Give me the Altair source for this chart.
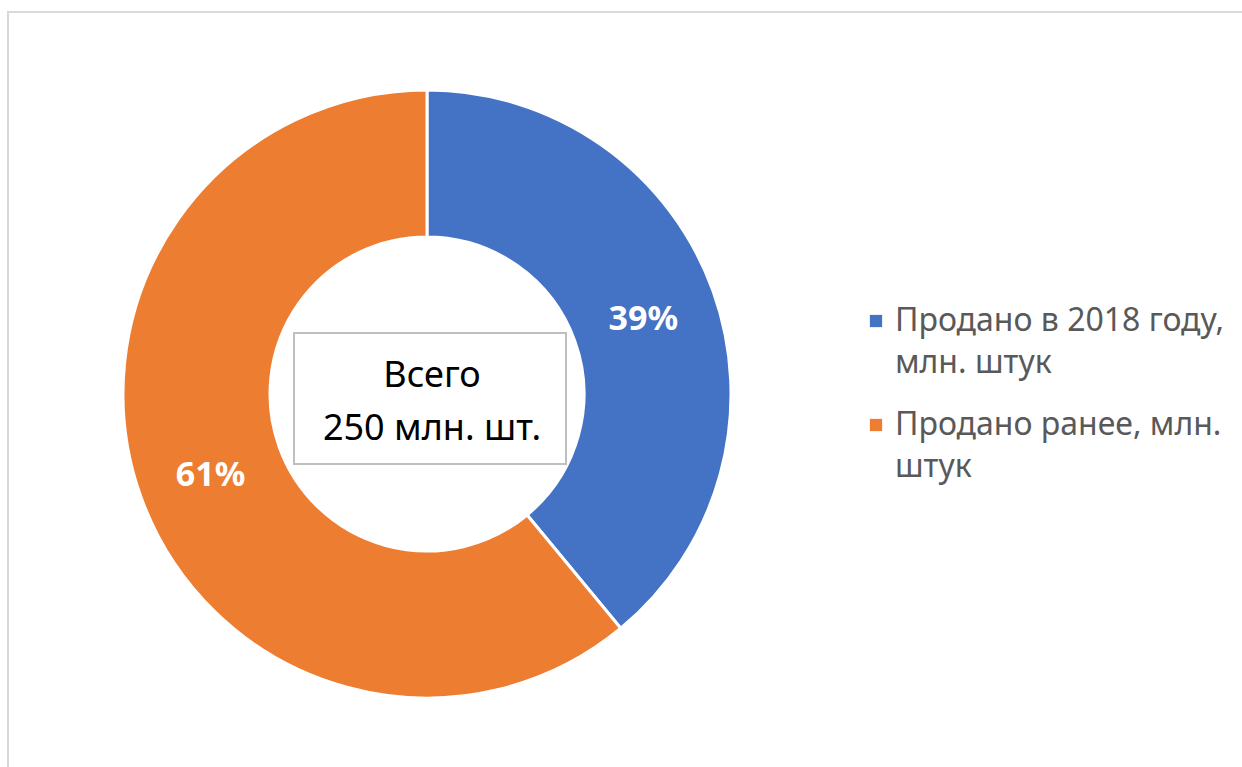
import altair as alt
import pandas as pd

categories = ["Продано в 2018 году, млн. штук", "Продано ранее, млн. штук"]
legend_lines = ["Продано в 2018 году,\nмлн. штук", "Продано ранее, млн.\nштук"]
shares = [39, 61]
labels = ["39%", "61%"]
colors = ["#4472C4", "#ED7D31"]
center_text = "Всего\n 250 млн. шт."

FONT = "Noto Sans"
W, H = 1242, 767
CX, CY = 427, 394

df = pd.DataFrame({"cat": categories, "share": shares, "label": labels, "order": [0, 1]})

color_scale = alt.Scale(domain=categories, range=colors)

base = alt.Chart(df).encode(
    theta=alt.Theta("share:Q", stack=True),
    order=alt.Order("order:Q"),
)

arcs = base.mark_arc(outerRadius=304, innerRadius=157, stroke="white", strokeWidth=3).encode(
    color=alt.Color("cat:N", scale=color_scale, legend=None),
    x=alt.value(CX), y=alt.value(CY),
)

pct = base.mark_text(radius=230, font=FONT, fontSize=34, fontWeight="bold", color="white", dy=4).encode(
    text="label:N", x=alt.value(CX), y=alt.value(CY),
)

border = alt.Chart(pd.DataFrame({"a": [0]})).mark_rect(
    fill=None, stroke="#d9d9d9", strokeWidth=2
).encode(x=alt.value(8), x2=alt.value(W + 20), y=alt.value(12), y2=alt.value(H + 20))

box = alt.Chart(pd.DataFrame({"a": [0]})).mark_rect(
    fill="white", stroke="#bfbfbf", strokeWidth=2
).encode(x=alt.value(294), x2=alt.value(566), y=alt.value(333), y2=alt.value(464))

ctext = alt.Chart(pd.DataFrame({"t": [center_text]})).mark_text(
    font=FONT, fontSize=36, color="black", lineBreak="\n", lineHeight=53, baseline="middle", align="center"
).encode(text="t:N", x=alt.value(432), y=alt.value(376))

leg = pd.DataFrame({"cat": categories, "txt": legend_lines, "idx": [0, 1]})
yscale = alt.Scale(domain=[0, 1], range=[321, 425], zero=False, nice=False)
leg_sq = alt.Chart(leg).mark_square(size=150, opacity=1).encode(
    color=alt.Color("cat:N", scale=color_scale, legend=None),
    x=alt.value(876),
    y=alt.Y("idx:Q", scale=yscale, axis=None),
)
leg_tx = alt.Chart(leg).mark_text(
    font=FONT, fontSize=32, color="#595959", align="left", baseline="middle", lineBreak="\n", lineHeight=42
).encode(
    text="txt:N",
    x=alt.value(895),
    y=alt.Y("idx:Q", scale=yscale, axis=None),
)

chart = alt.layer(border, arcs, pct, box, ctext, leg_sq, leg_tx).properties(
    width=W, height=H, padding=0, autosize=alt.AutoSizeParams(type="none"), background="white"
).configure_view(stroke=None)

chart.save("out.html", embed_options={"renderer": "svg", "actions": False})
